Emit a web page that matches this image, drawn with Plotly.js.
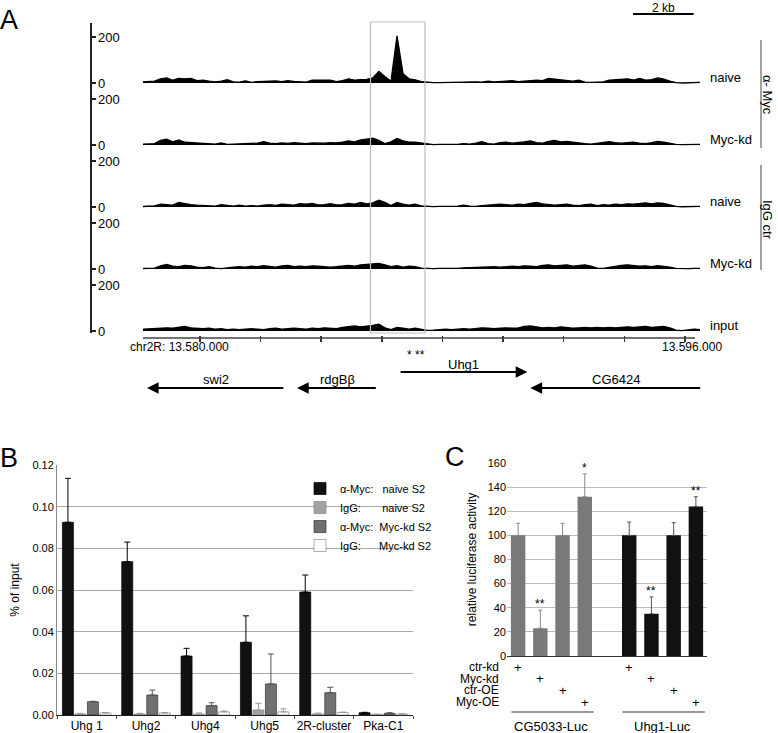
<!DOCTYPE html>
<html><head><meta charset="utf-8">
<script src="https://cdn.plot.ly/plotly-3.0.1.min.js"></script>
<style>html,body{margin:0;padding:0;background:#fff}</style>
</head><body>
<div id="chart" style="width:778px;height:733px"></div>
<script>
// ================= Panel A : ChIP-seq tracks =================
const binStart = 13578100;   // genomic start of first bin (bp)
const binSize = 200;         // bin width (bp)
const trackNames = ["naive", "Myc-kd", "naive", "Myc-kd", "input"];
const groupNames = ["\u03b1- Myc", "IgG ctr"];

const trackMycNaive = [5,6,8,18,22,12,20,18,20,10, 12,8,5,8,14,5,4,9,3,6,
  8,7,9,6,10,7,5,4,12,13, 11,12,6,10,18,12,15,16,22,50,
  28,8,205,40,18,14,6,3,2,2, 3,2,4,3,6,5,4,8,5,7,
  6,10,6,8,9,12,10,20,17,15, 12,8,12,4,3,3,5,12,14,15,
  18,13,20,12,15,22,17,8,2,0, 2,3,3];
const trackMycKd = [3,4,6,20,25,14,22,12,10,8, 6,5,4,9,3,4,5,6,5,8,
  14,8,6,9,7,10,8,6,9,7, 8,10,9,12,18,14,22,26,30,20,
  6,14,28,18,12,12,8,4,2,3, 2,4,3,6,4,8,14,6,4,10,
  12,8,10,14,18,10,8,16,20,14, 16,12,10,6,4,8,12,14,10,8,
  10,12,8,6,10,16,12,6,3,2, 3,3,3];
const trackIgGNaive = [2,3,5,12,10,8,20,14,10,8, 6,5,4,10,6,4,8,4,6,4,
  8,10,7,12,10,8,14,12,16,9, 10,14,9,10,16,12,20,14,18,30,
  20,6,20,12,8,12,5,3,2,3, 2,3,4,8,4,3,6,8,10,12,
  10,8,12,10,16,20,14,12,8,10, 12,8,6,10,12,6,10,8,12,10,
  14,12,16,18,14,18,16,10,3,1, 2,3,3];
const trackIgGKd = [2,3,4,14,20,12,10,16,14,8, 6,10,4,2,6,8,10,8,12,10,
  14,10,8,14,16,10,12,10,14,12, 10,8,10,12,16,12,18,20,22,24,
  18,10,14,8,12,10,4,2,2,3, 2,4,3,5,6,8,6,8,10,8,
  10,12,10,14,12,10,16,18,14,16, 18,12,16,18,12,4,3,8,12,16,
  18,14,12,14,10,14,12,8,3,1, 2,3,3];
const trackInput = [8,10,12,12,14,12,16,20,14,12, 10,12,8,10,6,8,6,8,10,8,
  6,10,12,8,10,12,10,8,12,10, 14,12,10,16,20,22,18,20,24,30,
  14,6,16,12,8,12,6,3,4,6, 8,6,8,10,8,12,14,12,10,12,
  14,12,14,20,22,18,14,16,14,18, 16,12,14,16,14,16,14,16,14,16,
  18,16,18,20,16,18,20,14,4,2, 6,8,6];
const trackValues = [trackMycNaive, trackMycKd, trackIgGNaive, trackIgGKd, trackInput];

const rulerTicks = [13580000,13582000,13584000,13586000,13588000,13590000,13592000,13594000,13596000];
const rulerExtent = [13578120, 13596330];
const rulerLabels = ["chr2R: 13.580.000", "13.596.000"];
const highlightRegion = [13585625, 13587423];
const primerMarkPos = 13587130;
const primerMarkText = "* **";
const scaleBarStart = 13594285;
const scaleBarLength = 2000;
const scaleBarLabel = "2 kb";

const geneNames = ["swi2", "rdgB\u03b2", "Uhg1", "CG6424"];
const geneFrom  = [13582800, 13585850, 13586570, 13596550];  // transcription start (arrow tail)
const geneTo    = [13578250, 13583200, 13590800, 13590900];  // arrow head

// ================= Panel B : ChIP-qPCR =================
const bCategories = ["Uhg 1", "Uhg2", "Uhg4", "Uhg5", "2R-cluster", "Pka-C1"];
const bSeriesNames = [
  "\u03b1-Myc:\u00a0\u00a0\u00a0naive S2",
  "IgG:\u00a0\u00a0\u00a0\u00a0\u00a0\u00a0\u00a0naive S2",
  "\u03b1-Myc:\u00a0\u00a0Myc-kd S2",
  "IgG:\u00a0\u00a0\u00a0\u00a0\u00a0\u00a0Myc-kd S2"];
const bMycNaive    = [0.0925, 0.0736, 0.0283, 0.0349, 0.0590, 0.0011];
const bMycNaiveErr = [0.0211, 0.0094, 0.0037, 0.0127, 0.0082, 0.0002];
const bIgGNaive    = [0.0005, 0.0005, 0.0004, 0.0024, 0.0005, 0.0003];
const bIgGNaiveErr = [0.0003, 0.0003, 0.0006, 0.0032, 0.0004, 0.0001];
const bMycKd       = [0.0064, 0.0096, 0.0045, 0.0149, 0.0107, 0.0008];
const bMycKdErr    = [0.0002, 0.0024, 0.0014, 0.0144, 0.0026, 0.0003];
const bIgGKd       = [0.0010, 0.0010, 0.0015, 0.0015, 0.0012, 0.0005];
const bIgGKdErr    = [0.0002, 0.0002, 0.0004, 0.0015, 0.0002, 0.0001];

// ================= Panel C : luciferase =================
const cConstructs = ["CG5033-Luc", "Uhg1-Luc"];
const cTreatments = ["ctr-kd", "Myc-kd", "ctr-OE", "Myc-OE"];
const cCG5033      = [100, 23, 100, 132];
const cCG5033Err   = [10, 15, 10, 19];
const cCG5033Sig   = ["", "**", "", "*"];
const cUhg1        = [100, 35, 100, 124];
const cUhg1Err     = [11, 14, 10.5, 8];
const cUhg1Sig     = ["", "**", "", "**"];

// ---------------------------------------------------------
const FONT = "Liberation Sans, Arial, Helvetica, sans-serif";
const W = 778, H = 733;
const px = v => v / W;
const py = v => 1 - v / H;

const traces = [];
const binPos = trackMycNaive.map((_, i) => binStart + i * binSize);
const yNames = ["y", "y2", "y3", "y4", "y5"];
trackValues.forEach((vals, k) => {
  traces.push({type: "scatter", mode: "lines", x: binPos, y: vals,
    xaxis: "x", yaxis: yNames[k], fill: "tozeroy", fillcolor: "#000",
    line: {color: "#000", width: 1.3}, showlegend: false, hoverinfo: "skip"});
});

const bSeries = [bMycNaive, bIgGNaive, bMycKd, bIgGKd];
const bErrs = [bMycNaiveErr, bIgGNaiveErr, bMycKdErr, bIgGKdErr];
const bColors = ["#111111", "#a3a3a3", "#707070", "#ffffff"];
const bLines = ["#000000", "#8a8a8a", "#333333", "#8a8a8a"];
const bErrColors = ["#000000", "#999999", "#555555", "#999999"];
bSeries.forEach((vals, k) => {
  traces.push({type: "bar", x: bCategories, y: vals, name: bSeriesNames[k],
    xaxis: "x2", yaxis: "y6",
    marker: {color: bColors[k], line: {color: bLines[k], width: 0.7}},
    error_y: {type: "data", symmetric: false, array: bErrs[k], arrayminus: vals.map(() => 0),
      color: bErrColors[k], thickness: 1, width: 3},
    hoverinfo: "skip"});
});

const catsCG = cTreatments.map(t => cConstructs[0] + " | " + t);
const catsUhg = cTreatments.map(t => cConstructs[1] + " | " + t);
const cCategoryOrder = [...catsCG, " ", ...catsUhg];
traces.push({type: "bar", x: catsCG, y: cCG5033, xaxis: "x3", yaxis: "y7",
  offsetgroup: "c", width: 0.65, showlegend: false, hoverinfo: "skip",
  marker: {color: "#7a7a7a"},
  error_y: {type: "data", symmetric: false, array: cCG5033Err, arrayminus: cCG5033.map(() => 0),
    color: "#888", thickness: 1, width: 2}});
traces.push({type: "bar", x: catsUhg, y: cUhg1, xaxis: "x3", yaxis: "y7",
  offsetgroup: "c", width: 0.65, showlegend: false, hoverinfo: "skip",
  marker: {color: "#111111"},
  error_y: {type: "data", symmetric: false, array: cUhg1Err, arrayminus: cUhg1.map(() => 0),
    color: "#555", thickness: 1, width: 2}});

// ---------------- layout ----------------
const layout = {
  width: W, height: H, margin: {l: 0, r: 0, t: 0, b: 0, pad: 0},
  paper_bgcolor: "#fff", plot_bgcolor: "rgba(0,0,0,0)",
  font: {family: FONT, size: 12, color: "#000"},
  barmode: "group", bargap: 0.157, bargroupgap: 0.12,
  showlegend: true,
  legend: {x: px(300), y: py(474), xanchor: "left", yanchor: "top",
    font: {size: 11, family: FONT, color: "#000"}, bgcolor: "rgba(0,0,0,0)", borderwidth: 0,
    tracegroupgap: 0},
  xaxis: {domain: [px(143), px(700)], range: [13578120, 13596495], anchor: "free",
    position: py(335), showline: false, showgrid: false, zeroline: false,
    tickmode: "array", tickvals: rulerTicks, ticks: "outside", ticklen: 6, tickwidth: 1.5,
    tickcolor: "#333", showticklabels: false, fixedrange: true},
  annotations: [], shapes: []
};
const baselines = [83, 145, 207, 269, 331];
baselines.forEach((b, k) => {
  const key = k === 0 ? "yaxis" : "yaxis" + (k + 1);
  layout[key] = {domain: [py(b + 2), py(b - 60)], range: [-8.7, 260.9],
    anchor: "free", position: px(90), side: "right",
    showline: true, linecolor: "#222", linewidth: 1.5,
    ticks: "outside", ticklen: 4, tickwidth: 1.2, tickcolor: "#222",
    tickmode: "array", tickvals: [0, 200], showgrid: false, zeroline: false,
    tickfont: {size: 13, family: FONT, color: "#000"}, fixedrange: true};
  layout.annotations.push({xref: "paper", yref: yNames[k], x: px(708), y: 22,
    xanchor: "left", yanchor: "middle", showarrow: false, text: trackNames[k],
    font: {size: 13}});
});

// Panel B axes
layout.xaxis2 = {domain: [px(57), px(413)], anchor: "y6", type: "category",
  showline: true, linecolor: "#222", linewidth: 1, ticks: "outside", tickson: "boundaries",
  ticklen: 3, tickcolor: "#444", showgrid: false, tickangle: 0, automargin: false,
  tickfont: {size: 12, color: "#000"}};
layout.yaxis6 = {domain: [py(715), py(465)], anchor: "x2", range: [0, 0.12], dtick: 0.02,
  tickformat: ".2f", showgrid: true, gridcolor: "#aaaaaa", gridwidth: 1,
  showline: true, linecolor: "#888", zeroline: false, ticks: "",
  tickfont: {size: 11, color: "#000"},
  title: {text: "% of input", font: {size: 12, color: "#000"}, standoff: 10}};

// Panel C axes
layout.xaxis3 = {domain: [px(507), px(707)], anchor: "y7", type: "category",
  categoryorder: "array", categoryarray: cCategoryOrder, range: [-0.5, 8.5],
  showline: true, linecolor: "#333", linewidth: 1.2, ticks: "", showticklabels: false,
  showgrid: false, zeroline: false};
layout.yaxis7 = {domain: [py(656), py(463)], anchor: "x3", range: [0, 160], dtick: 20,
  showgrid: true, gridcolor: "#bbbbbb", showline: false, zeroline: false, ticks: "",
  tickfont: {size: 11, color: "#000"},
  title: {text: "relative luciferase activity", font: {size: 12, color: "#000"}, standoff: 8}};

// Panel letters
[["A", 9, 20], ["B", 9, 458], ["C", 455, 457]].forEach(([t, x, y]) => {
  layout.annotations.push({xref: "paper", yref: "paper", x: px(x), y: py(y),
    xanchor: "center", yanchor: "middle", showarrow: false, text: t,
    font: {size: 27, color: "#000"}});
});

// Panel A decorations
layout.shapes.push({type: "rect", xref: "x", yref: "paper",
  x0: highlightRegion[0], x1: highlightRegion[1], y0: py(333), y1: py(22),
  line: {color: "#bdbdbd", width: 1.2}, fillcolor: "rgba(0,0,0,0)"});
layout.shapes.push({type: "line", xref: "x", yref: "paper",
  x0: rulerExtent[0], x1: rulerExtent[1], y0: py(338), y1: py(338),
  line: {color: "#444", width: 1.5}});
layout.annotations.push({xref: "x", yref: "paper", x: rulerTicks[0], y: py(347), xshift: -20,
  xanchor: "center", yanchor: "middle", showarrow: false, text: rulerLabels[0], font: {size: 12}});
layout.annotations.push({xref: "x", yref: "paper", x: rulerTicks[rulerTicks.length - 1], y: py(347), xshift: 7,
  xanchor: "center", yanchor: "middle", showarrow: false, text: rulerLabels[1], font: {size: 12}});
layout.annotations.push({xref: "x", yref: "paper", x: primerMarkPos, y: py(355),
  xanchor: "center", yanchor: "middle", showarrow: false, text: primerMarkText, font: {size: 12}});
// scale bar
layout.shapes.push({type: "line", xref: "x", yref: "paper",
  x0: scaleBarStart, x1: scaleBarStart + scaleBarLength, y0: py(14), y1: py(14),
  line: {color: "#000", width: 2}});
layout.annotations.push({xref: "x", yref: "paper", x: scaleBarStart + scaleBarLength / 2, y: 1,
  xanchor: "center", yanchor: "top", showarrow: false, text: scaleBarLabel, font: {size: 12},
  borderpad: 0});
// genes
geneNames.forEach((g, i) => {
  const plus = geneTo[i] > geneFrom[i];
  const arrowY = plus ? 372 : 388;
  const labelY = plus ? 364 : 379;
  layout.annotations.push({xref: "x", yref: "paper", x: geneTo[i], y: py(arrowY),
    axref: "x", ayref: "pixel", ax: geneFrom[i], ay: 0, showarrow: true,
    arrowhead: 2, arrowsize: 1.3, arrowwidth: 1.8, arrowcolor: "#000", text: ""});
  layout.annotations.push({xref: "x", yref: "paper", x: (geneFrom[i] + geneTo[i]) / 2, y: py(labelY),
    xanchor: "center", yanchor: "middle", showarrow: false, text: g, font: {size: 13}});
});
// group brackets on the right
[[40, 148, 95], [165, 270, 220]].forEach(([y0, y1, yc], k) => {
  layout.shapes.push({type: "line", xref: "paper", yref: "paper",
    x0: px(761), x1: px(761), y0: py(y0), y1: py(y1), line: {color: "#444", width: 1}});
  layout.annotations.push({xref: "paper", yref: "paper", x: px(768), y: py(yc),
    xanchor: "center", yanchor: "middle", showarrow: false, textangle: 90,
    text: groupNames[k], font: {size: 13}});
});

// Panel C: significance stars
[[catsCG, cCG5033, cCG5033Err, cCG5033Sig], [catsUhg, cUhg1, cUhg1Err, cUhg1Sig]].forEach(([cats, v, e, s]) => {
  cats.forEach((c, i) => {
    if (!s[i]) return;
    layout.annotations.push({xref: "x3", yref: "y7", x: c, y: v[i] + e[i], yshift: -3,
      xanchor: "center", yanchor: "bottom", showarrow: false, text: s[i], font: {size: 12}});
  });
});
// Panel C: treatment table
const rowY = [667, 678.7, 690.3, 702];
cTreatments.forEach((t, j) => {
  layout.annotations.push({xref: "paper", yref: "paper", x: px(500), y: py(rowY[j]),
    xanchor: "right", yanchor: "middle", showarrow: false, text: t, font: {size: 12},
    borderpad: 0});
  [catsCG, catsUhg].forEach(cats => {
    layout.annotations.push({xref: "x3", yref: "paper", x: cats[j], y: py(rowY[j]),
      xanchor: "center", yanchor: "middle", showarrow: false, text: "+", font: {size: 13},
      borderpad: 0});
  });
});
[catsCG, catsUhg].forEach((cats, k) => {
  layout.shapes.push({type: "line", xref: "x3", yref: "paper",
    x0: cats[0], x0shift: -0.3, x1: cats[cats.length - 1], x1shift: 0.4,
    y0: py(712), y1: py(712), line: {color: "#333", width: 1.2}});
  layout.annotations.push({xref: "x3", yref: "paper", x: cCategoryOrder.indexOf(cats[0]) + 1.5, y: py(726),
    xanchor: "center", yanchor: "middle", showarrow: false, text: cConstructs[k], font: {size: 13}});
});

Plotly.newPlot("chart", traces, layout, {staticPlot: true, displayModeBar: false});
</script>
</body></html>
